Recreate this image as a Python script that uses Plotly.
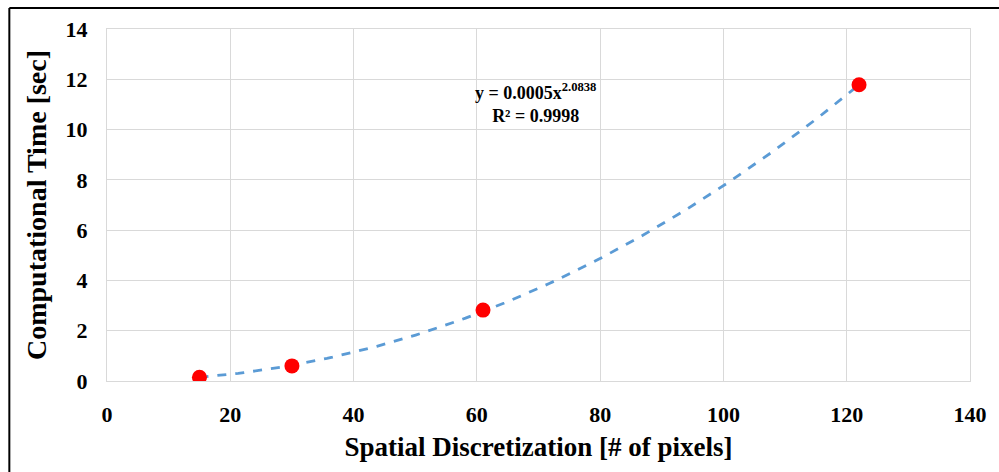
import numpy as np
import plotly.graph_objects as go

# Data
pixels = [15, 30, 61, 122]
comp_time = [0.15, 0.60, 2.82, 11.78]
x_ticks = [0, 20, 40, 60, 80, 100, 120, 140]
y_ticks = [0, 2, 4, 6, 8, 10, 12, 14]
eq_text = "y = 0.0005x<sup>2.0838</sup><br>R² = 0.9998"

# Power-law trendline fitted from the data (as Excel does)
lx = np.log(np.array(pixels, dtype=float))
ly = np.log(np.array(comp_time, dtype=float))
b, ln_a = np.polyfit(lx, ly, 1)
xf = np.linspace(min(pixels), max(pixels), 120)
yf = np.exp(ln_a) * xf ** b

fig = go.Figure()
fig.add_trace(go.Scatter(x=xf, y=yf, mode="lines",
                         line=dict(color="#5B9BD5", width=2.8, dash="dash"),
                         hoverinfo="skip", showlegend=False))
fig.add_trace(go.Scatter(x=pixels, y=comp_time, mode="markers",
                         marker=dict(color="#FF0000", size=15,
                                     line=dict(width=0)),
                         showlegend=False))

serif = "Liberation Serif, Times New Roman, serif"
fig.update_layout(
    width=999, height=472,
    margin=dict(l=107, r=26, t=29, b=91),
    paper_bgcolor="white", plot_bgcolor="white",
    font=dict(family=serif, color="black"),
    xaxis=dict(range=[0, 140], tickvals=x_ticks, showgrid=True,
               gridcolor="#D9D9D9", gridwidth=1, zeroline=False,
               showline=True, linecolor="#D9D9D9", mirror=True,
               ticks="outside", ticklen=14, tickcolor="rgba(0,0,0,0)",
               tickfont=dict(family=serif, size=22, color="black", weight="bold"),
               title=dict(text="<b>Spatial Discretization [# of pixels]</b>",
                          font=dict(family=serif, size=27, color="black"),
                          standoff=10)),
    yaxis=dict(range=[0, 14], tickvals=y_ticks, showgrid=True,
               gridcolor="#D9D9D9", gridwidth=1, zeroline=False,
               showline=True, linecolor="#D9D9D9", mirror=True,
               ticks="outside", ticklen=14, tickcolor="rgba(0,0,0,0)",
               tickfont=dict(family=serif, size=22, color="black", weight="bold"),
               title=dict(text="<b>Computational Time [sec]</b>",
                          font=dict(family=serif, size=28, color="black"),
                          standoff=10)),
    annotations=[dict(x=0.496, y=0.86, xref="paper", yref="paper",
                      yanchor="top",
                      text="<b>" + eq_text + "</b>", showarrow=False,
                      font=dict(family=serif, size=18, color="black"),
                      align="center")],
    shapes=[dict(type="line", xref="paper", yref="paper",
                 x0=(9 - 107) / 866, x1=1.1, y0=1 + (29 - 8) / 352, y1=1 + (29 - 8) / 352,
                 line=dict(color="black", width=2)),
            dict(type="line", xref="paper", yref="paper",
                 x0=(9 - 107) / 866, x1=(9 - 107) / 866, y0=-0.4, y1=1 + (29 - 8) / 352,
                 line=dict(color="black", width=2))],
)
fig.write_html("out.html")
